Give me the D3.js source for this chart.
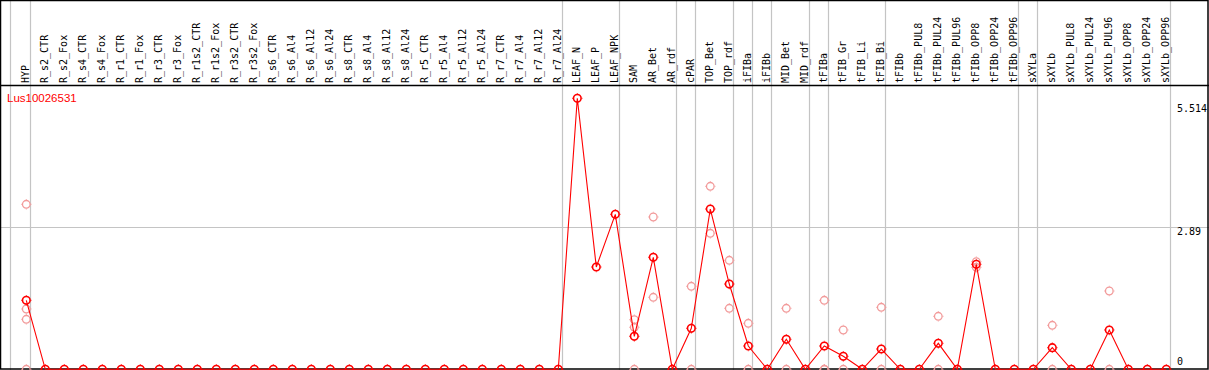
<!DOCTYPE html>
<html><head><meta charset="utf-8">
<script src="https://cdn.jsdelivr.net/npm/d3@7"></script>
<style>html,body{margin:0;padding:0;background:#fff;}svg{display:block;}</style>
</head><body>
<svg id="chart" width="1209" height="370"></svg>
<script>
const title = "Lus10026531";
const categories = ["HYP","R_s2_CTR","R_s2_Fox","R_s4_CTR","R_s4_Fox","R_r1_CTR","R_r1_Fox","R_r3_CTR","R_r3_Fox","R_r1s2_CTR","R_r1s2_Fox","R_r3s2_CTR","R_r3s2_Fox","R_s6_CTR","R_s6_Al4","R_s6_Al12","R_s6_Al24","R_s8_CTR","R_s8_Al4","R_s8_Al12","R_s8_Al24","R_r5_CTR","R_r5_Al4","R_r5_Al12","R_r5_Al24","R_r7_CTR","R_r7_Al4","R_r7_Al12","R_r7_Al24","LEAF_N","LEAF_P","LEAF_NPK","SAM","AR_Bet","AR_rdf","cPAR","TOP_Bet","TOP_rdf","iFIBa","iFIBb","MID_Bet","MID_rdf","tFIBa","tFIB_Gr","tFIB_Li","tFIB_Bi","tFIBb","tFIBb_PUL8","tFIBb_PUL24","tFIBb_PUL96","tFIBb_OPP8","tFIBb_OPP24","tFIBb_OPP96","sXYLa","sXYLb","sXYLb_PUL8","sXYLb_PUL24","sXYLb_PUL96","sXYLb_OPP8","sXYLb_OPP24","sXYLb_OPP96"];
const meanValues = [1.404,
  0,0,0,0,0,0,0,0,0,0,0,0,0,0,0,0,0,0,0,0,0,0,0,0,0,0,0,0,
  5.514,2.081,3.153,0.671,2.279,0,0.834,3.261,1.735,0.474,0,0.610,0,0.474,0.264,0,0.413,
  0,0,0.529,0,2.136,0,0,0,0.440,0,0,0.800,0,0,0];
const replicates = [
  ["HYP",[3.357,1.227,1.017,0]],
  ["SAM",[1.009,0.855,0]],
  ["AR_Bet",[3.099,1.465]],
  ["cPAR",[1.689,0]],
  ["TOP_Bet",[3.723,2.767]],
  ["TOP_rdf",[2.218,1.241]],
  ["iFIBa",[0.936,0]],
  ["MID_Bet",[1.241,0]],
  ["tFIBa",[1.404,0,0]],
  ["tFIB_Gr",[0.800,0]],
  ["tFIB_Bi",[1.261,0]],
  ["tFIBb_PUL24",[1.078,0]],
  ["tFIBb_OPP8",[2.19,2.075]],
  ["sXYLb",[0.895,0]],
  ["sXYLb_PUL96",[1.593,0]]
];
const groupSizes = [1,28,3,3,1,2,1,1,2,1,3,7,1,7];
const yTickValues = [5.514, 2.89, 0];
const yTickLabels = ["5.514","2.89","0"];

const W = 1209, H = 370;
const svg = d3.select("#chart");
const x = d3.scalePoint().domain(categories).range([26.3, 1166.3]);
const y = d3.scaleLinear().domain([0, 5.514]).range([369.3, 98.3]);
const mono = "'DejaVu Sans Mono', monospace";

// horizontal grid at middle tick
svg.append("line").attr("x1",0).attr("x2",W).attr("y1",Math.round(y(2.89))+0.5).attr("y2",Math.round(y(2.89))+0.5)
  .attr("stroke","#c4c4c4").attr("stroke-width",1.2);

// group boundary lines
const bounds = [x(categories[0]) - 16];
let acc = 0;
groupSizes.forEach(s => { acc += s; bounds.push(x(categories[acc-1]) + 4); });
svg.selectAll("line.vg").data(bounds).enter().append("line").attr("class","vg")
  .attr("x1",d=>Math.round(d)+0.5).attr("x2",d=>Math.round(d)+0.5).attr("y1",0).attr("y2",H)
  .attr("stroke","#c4c4c4").attr("stroke-width",1.2);

// frame
svg.append("rect").attr("x",0.5).attr("y",0.5).attr("width",1207.5).attr("height",368.5)
  .attr("fill","none").attr("stroke","#000").attr("stroke-width",1.5);
svg.append("line").attr("x1",0).attr("x2",W).attr("y1",85.5).attr("y2",85.5).attr("stroke","#000").attr("stroke-width",1.5);

// column labels
svg.selectAll("text.cat").data(categories).enter().append("text").attr("class","cat")
  .attr("transform",d=>`translate(${Math.round(x(d))-1},83) rotate(-90)`)
  .attr("dy","0.35em").attr("font-family",mono).attr("font-size",10).attr("fill","#000")
  .text(d=>d);

// title
svg.append("text").attr("x",7).attr("y",102).attr("font-family","'Liberation Sans', Arial, sans-serif")
  .attr("font-size",11.5).attr("fill","#ff0000").text(title);

// y labels
const yOff = [10, 4.5, -7.5];
svg.selectAll("text.yl").data(yTickValues).enter().append("text").attr("class","yl")
  .attr("x",1177).attr("y",(d,i)=>y(d)+yOff[i]).attr("dy","0.35em")
  .attr("font-family",mono).attr("font-size",10).attr("fill","#000")
  .text((d,i)=>yTickLabels[i]);

function marker(g, cx, cy, color, sw) {
  const r = 3.8, r2 = 5.2;
  g.append("circle").attr("cx",cx).attr("cy",cy).attr("r",r).attr("fill","none").attr("stroke",color).attr("stroke-width",sw);
  [[0,-1],[0,1],[-1,0],[1,0]].forEach(([dx,dy]) => {
    g.append("line").attr("x1",cx+dx*(r+0.6)).attr("y1",cy+dy*(r+0.6)).attr("x2",cx+dx*r2).attr("y2",cy+dy*r2)
      .attr("stroke",color).attr("stroke-width",0.9);
  });
}

// replicate points
const repG = svg.append("g");
replicates.forEach(([c, vals]) => vals.forEach(v => marker(repG, x(c), y(v), "#f29a9a", 1.3)));

// mean line
const pts = categories.map((c,i)=>[x(c), y(meanValues[i])]);
svg.append("path").attr("d", d3.line()(pts)).attr("fill","none").attr("stroke","#ff0000").attr("stroke-width",1.1);

// mean markers
const mG = svg.append("g");
pts.forEach(([px,py]) => marker(mG, px, py, "#ff0000", 1.6));
</script>
</body></html>
